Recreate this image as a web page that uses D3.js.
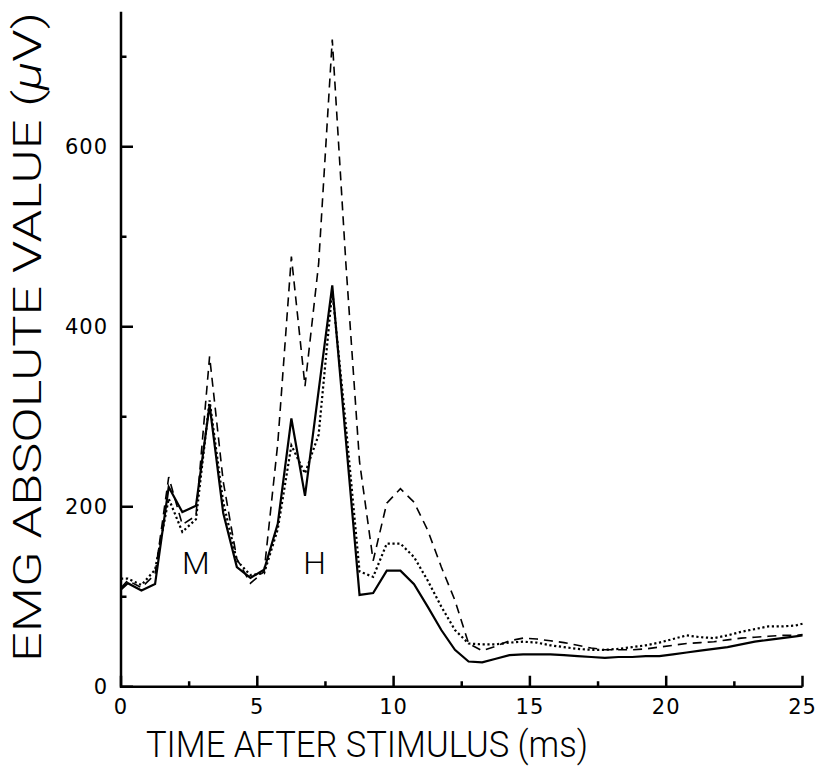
<!DOCTYPE html>
<html><head><meta charset="utf-8">
<script src="https://cdn.jsdelivr.net/npm/d3@7"></script>
<style>body{margin:0;background:#fff}</style>
</head><body>
<svg id="chart" width="817" height="767"></svg>
<script>
// Time after stimulus (ms)
const times = [0,0.25,0.75,1.25,1.75,2.25,2.75,3.25,3.75,4.25,4.75,5.25,5.75,6.25,6.75,7.25,7.75,8.25,8.75,9.25,9.75,10.25,10.75,11.25,11.75,12.25,12.75,13.25,13.75,14.25,14.75,15.25,15.75,16.25,16.75,17.25,17.75,18.25,18.75,19.25,19.75,20.25,20.75,21.25,21.75,22.25,22.75,23.25,23.75,24.25,24.75,25];
// EMG absolute value (µV) — solid trace
const solidValues = [108,115,107,114,222,194,201,313,193,133,121,130,181,298,212,329,446,274,102,104,129,129,114,89,63,41,28,27,31,35,36,36,36,35,34,33,32,33,33,34,34,36,38,40,42,44,47,50,52,54,56,57];
// dotted trace
const dottedValues = [120,120,113,130,209,172,186,318,205,140,124,126,175,268,237,280,440,290,128,122,159,159,144,118,89,63,48,47,47,49,50,49,46,44,42,41,41,42,44,46,49,53,57,55,54,57,61,64,67,67,68,70];
// dashed trace
const dashedValues = [110,118,110,125,233,180,190,367,228,142,115,128,270,478,334,470,719,470,250,140,204,220,205,174,133,96,48,40,45,51,54,53,51,49,46,43,41,41,41,42,44,46,48,49,50,52,54,55,56,57,57,58];

const xMajor = [0,5,10,15,20,25];
const xMinor = [2.5,7.5,12.5,17.5,22.5];
const yMajor = [0,200,400,600];
const yMinor = [100,300,500,700];
const xTitle = "TIME AFTER STIMULUS (ms)";
const yTitle = "EMG ABSOLUTE VALUE (";
const peakLabels = [{text:"M", t:2.75}, {text:"H", t:7.1}];

const svg = d3.select("#chart");
const x = d3.scaleLinear().domain([0,25]).range([121,802.5]);
const y = d3.scaleLinear().domain([0,750]).range([686.7,11.7]);

const tickFont = "'DejaVu Sans', sans-serif";
const titleFont = "Roboto, 'DejaVu Sans', sans-serif";

// axes and ticks as one path each, drawn through the scales
const axisPath = d3.path();
axisPath.moveTo(x(0), y(750)); axisPath.lineTo(x(0), y(0)); axisPath.lineTo(x(25), y(0));
svg.append("path").attr("d", axisPath.toString()).attr("fill","none").attr("stroke","#000").attr("stroke-width",2.5);

const tickPath = d3.path();
xMajor.forEach(d=>{ tickPath.moveTo(x(d), y(0)); tickPath.lineTo(x(d), y(0)-11); });
xMinor.forEach(d=>{ tickPath.moveTo(x(d), y(0)); tickPath.lineTo(x(d), y(0)-5.5); });
yMajor.forEach(d=>{ tickPath.moveTo(x(0), y(d)); tickPath.lineTo(x(0)+12, y(d)); });
yMinor.forEach(d=>{ tickPath.moveTo(x(0), y(d)); tickPath.lineTo(x(0)+5.5, y(d)); });
svg.append("path").attr("d", tickPath.toString()).attr("fill","none").attr("stroke","#000").attr("stroke-width",2.5);

// tick labels
svg.selectAll("text.xl").data(xMajor).enter().append("text").attr("class","xl")
  .attr("x",d=>x(d)).attr("y",y(0)+27).attr("text-anchor","middle")
  .attr("font-family",tickFont).attr("font-size",21).attr("letter-spacing",1).text(d=>d);
svg.selectAll("text.yl").data(yMajor).enter().append("text").attr("class","yl")
  .attr("x",108).attr("y",d=>y(d)+7.5).attr("text-anchor","end")
  .attr("font-family",tickFont).attr("font-size",21).attr("letter-spacing",1).text(d=>d);

// lines
const line = vals => d3.line().x((d,i)=>x(times[i])).y(d=>y(d))(vals);
svg.append("path").attr("d",line(dashedValues)).attr("fill","none").attr("stroke","#000")
  .attr("stroke-width",1.6).attr("stroke-dasharray","9,6");
svg.append("path").attr("d",line(dottedValues)).attr("fill","none").attr("stroke","#000")
  .attr("stroke-width",2.2).attr("stroke-dasharray","2.2,2.6");
svg.append("path").attr("d",line(solidValues)).attr("fill","none").attr("stroke","#000")
  .attr("stroke-width",2.2).attr("stroke-linejoin","miter");

// peak labels
svg.selectAll("text.peak").data(peakLabels).enter().append("text").attr("class","peak")
  .attr("x",d=>x(d.t)).attr("y",574).attr("text-anchor","middle")
  .attr("font-family",titleFont).attr("font-weight",300).attr("font-size",32).text(d=>d.text);

// x title
svg.append("text").attr("x",146).attr("y",757).attr("font-family",titleFont).attr("font-weight",300)
  .attr("font-size",36).attr("textLength",442).attr("lengthAdjust","spacingAndGlyphs").text(xTitle);

// y title
const yt = svg.append("text").attr("transform","translate(41,662) rotate(-90)")
  .attr("font-family",titleFont).attr("font-weight",300).attr("font-size",38)
  .attr("textLength",650).attr("lengthAdjust","spacingAndGlyphs");
yt.append("tspan").text(yTitle);
yt.append("tspan").attr("font-style","italic").text("μ");
yt.append("tspan").text("V)");
</script>
</body></html>
